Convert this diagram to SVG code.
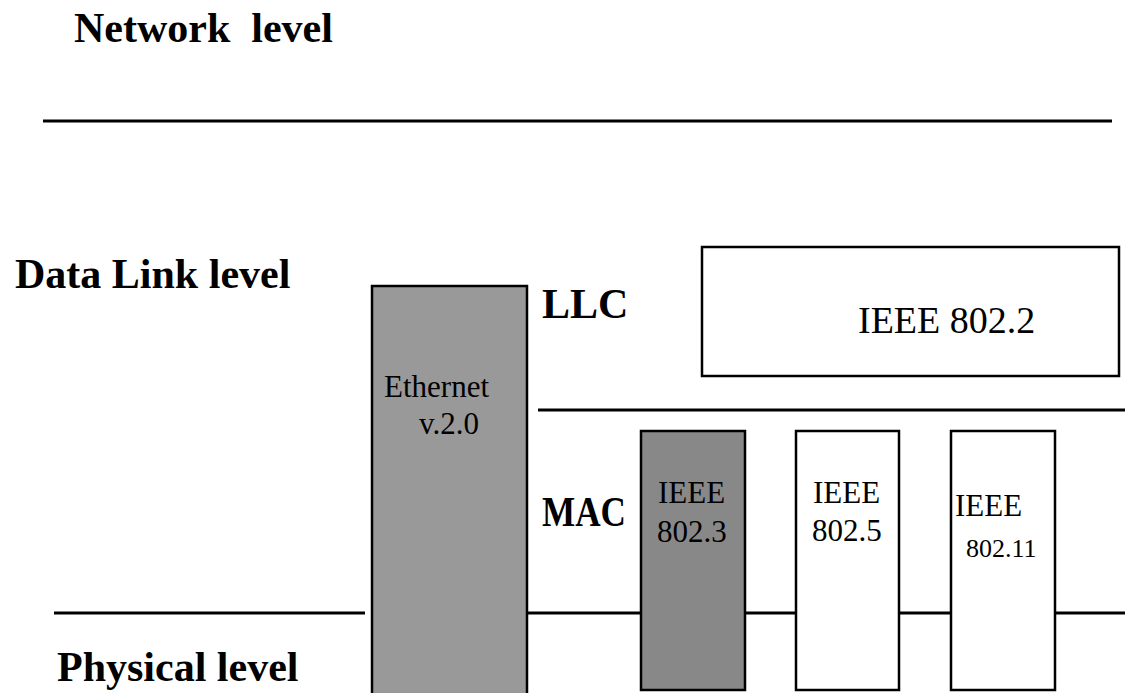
<svg xmlns="http://www.w3.org/2000/svg" width="1125" height="693" viewBox="0 0 1125 693">
<style>
.lbl{font-family:"Liberation Serif","Times New Roman",serif;font-weight:bold;font-size:42px;fill:#000;white-space:pre}
.txt{font-family:"Liberation Serif","Times New Roman",serif;font-size:31px;fill:#000}
.ln{stroke:#000;stroke-width:3;fill:none}
.box{stroke:#000;stroke-width:2.5}
</style>
<rect width="1125" height="693" fill="#fff"/>
<g id="levels">
<text class="lbl" x="74" y="42" xml:space="preserve">Network  level</text>
<text class="lbl" x="15" y="288">Data Link level</text>
<text class="lbl" x="57" y="681">Physical level</text>
<text class="lbl" x="542" y="318">LLC</text>
<text class="lbl" x="542" y="526" textLength="84" lengthAdjust="spacingAndGlyphs">MAC</text>
</g>
<g id="connectors">
<line class="ln" x1="43" y1="121" x2="1112" y2="121"/>
<line class="ln" x1="538" y1="410" x2="1125" y2="410"/>
<line class="ln" x1="54" y1="613" x2="365" y2="613"/>
<line class="ln" x1="520" y1="613" x2="1125" y2="613"/>
</g>
<g id="ethernet">
<rect class="box" x="372" y="286" width="155" height="420" fill="#999"/>
<text class="txt" x="384" y="397">Ethernet</text>
<text class="txt" x="419" y="434">v.2.0</text>
</g>
<g id="ieee8022">
<rect class="box" x="702" y="247" width="417" height="129" fill="#fff"/>
<text class="txt" x="858" y="333" style="font-size:38px">IEEE 802.2</text>
</g>
<g id="ieee8023">
<rect class="box" x="641" y="431" width="104" height="259" fill="#888"/>
<text class="txt" x="658" y="503">IEEE</text>
<text class="txt" x="657" y="542">802.3</text>
</g>
<g id="ieee8025">
<rect class="box" x="796" y="431" width="103" height="259" fill="#fff"/>
<text class="txt" x="813" y="503">IEEE</text>
<text class="txt" x="812" y="541">802.5</text>
</g>
<g id="ieee80211">
<rect class="box" x="951" y="431" width="104" height="259" fill="#fff"/>
<text class="txt" x="955" y="516">IEEE</text>
<text class="txt" x="966" y="557" style="font-size:26px">802.11</text>
</g>
</svg>
